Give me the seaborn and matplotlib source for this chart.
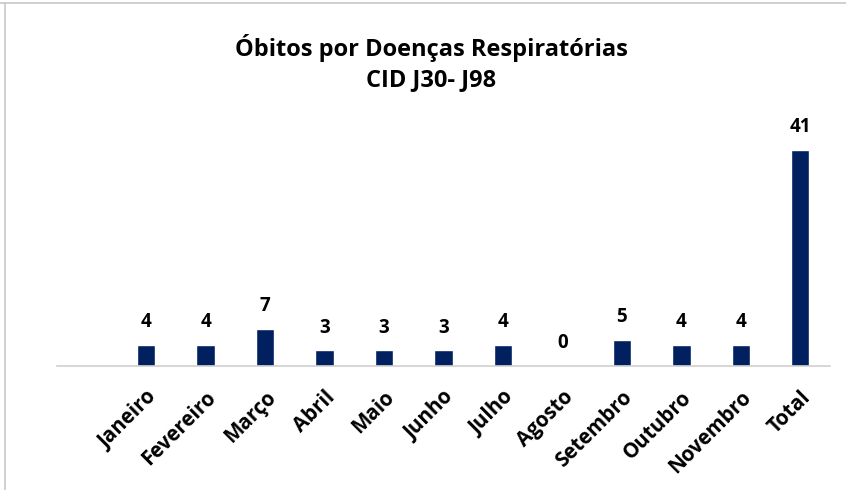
import matplotlib
matplotlib.use("Agg")
import matplotlib.pyplot as plt
import seaborn as sns
import pandas as pd
from matplotlib.lines import Line2D

# data
meses = ["Janeiro", "Fevereiro", "Março", "Abril", "Maio", "Junho", "Julho",
         "Agosto", "Setembro", "Outubro", "Novembro", "Total"]
obitos = [4, 4, 7, 3, 3, 3, 4, 0, 5, 4, 4, 41]

df = pd.DataFrame({"Mes": meses, "Obitos": obitos})

sns.set_theme(style="white")
plt.rcParams["font.family"] = ["Open Sans", "DejaVu Sans"]

fig = plt.figure(figsize=(8.46, 4.90), dpi=100)
ax = fig.add_axes([0.0674, 0.253, 0.9136, 0.484])

sns.barplot(data=df, x="Mes", y="Obitos", color="#002060", width=0.31,
            saturation=1, ax=ax)

for i, v in enumerate(obitos):
    ax.text(i, v + 2.4, str(v), ha="center", va="bottom",
            fontsize=13.5, fontweight="bold", color="black")

ax.set_xlim(-1.5, 11.5)
ax.set_ylim(0, 45)
ax.set_xlabel("")
ax.set_ylabel("")
ax.set_yticks([])
ax.tick_params(axis="x", length=0, pad=15)
plt.setp(ax.get_xticklabels(), rotation=45, ha="right", rotation_mode="anchor",
         fontsize=14.8, fontweight="bold", color="black")
for s in ["top", "right", "left"]:
    ax.spines[s].set_visible(False)
ax.spines["bottom"].set_color("#d0d0d0")
ax.spines["bottom"].set_linewidth(1.2)

fig.text(0.51, 0.903, "Óbitos por Doenças Respiratórias", ha="center", va="center",
         fontsize=17, fontweight="bold", color="black")
fig.text(0.51, 0.836, "CID J30- J98", ha="center", va="center",
         fontsize=17, fontweight="bold", color="black")

# page border of the original screenshot
fig.add_artist(Line2D([0, 1], [0.994, 0.994], color="#c8c8c8", lw=1.2))
fig.add_artist(Line2D([0.006, 0.006], [0, 0.994], color="#c8c8c8", lw=1.2))

fig.savefig("out.png", dpi=100)
